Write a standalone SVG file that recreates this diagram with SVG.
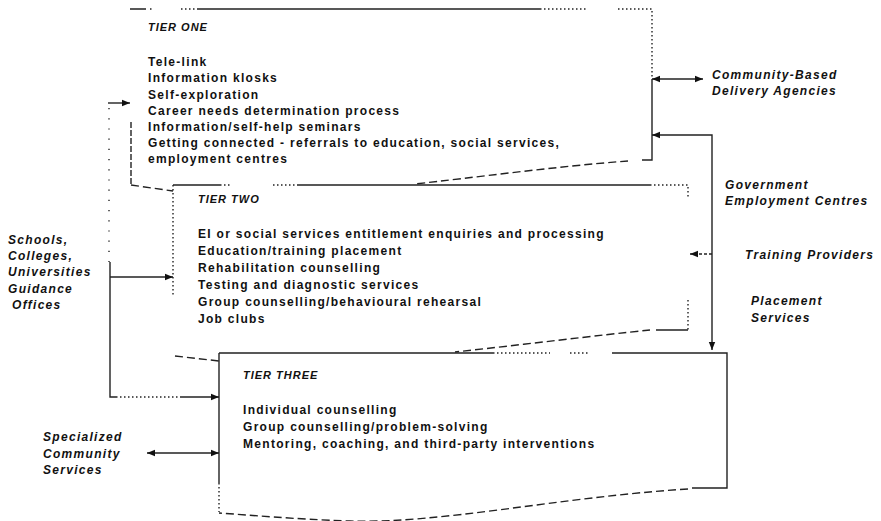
<svg xmlns="http://www.w3.org/2000/svg" width="881" height="521" viewBox="0 0 881 521">
<style>
.t{font-family:"Liberation Sans",Arial,Helvetica,sans-serif;font-weight:bold;font-size:12px;letter-spacing:1.3px;fill:#111}
.h{font-style:italic;font-size:11px;letter-spacing:1px}
.i{font-style:italic}
.s{fill:none;stroke:#222;stroke-width:1.4}
.d{stroke-dasharray:8 4}
.o{stroke-dasharray:1.5 2.5}
.f{stroke-dasharray:1.2 9}
</style>
<defs>
<marker id="ah" viewBox="0 0 10 10" refX="10" refY="5" markerWidth="8" markerHeight="8" markerUnits="userSpaceOnUse" orient="auto-start-reverse">
<path d="M0,1 L10,5 L0,9 z" fill="#111"/>
</marker>
</defs>
<rect width="881" height="521" fill="#fff"/>

<g id="tier-three">
<path class="s" d="M219,353 H493 M612,353 H727 V488 H692"/>
<path class="s o" d="M493,353 H550 M570,353 H590 M219,483 V512"/>
<path class="s" d="M219,353 V483"/>
<path class="s d" d="M688,489 C560,497 440,524 350,521 C290,519 250,515 219,513"/>
<text class="t h" x="243" y="379">TIER THREE</text>
<text class="t" x="243" y="414">Individual counselling</text>
<text class="t" x="243" y="431">Group counselling/problem-solving</text>
<text class="t" x="243" y="448">Mentoring, coaching, and third-party interventions</text>
</g>

<g id="tier-two">
<path class="s" d="M173,185 H220 M297,185 H650 M688,330 H656"/>
<path class="s o" d="M220,185 H230 M273,185 H297 M650,185 H688 V198 M688,300 V330 M173,185 V296"/>
<path class="s d" d="M650,330 C600,335 520,345 455,352"/>
<path class="s d" d="M175,356 L219,361"/>
<text class="t h" x="198" y="203">TIER TWO</text>
<text class="t" x="198" y="238">EI or social services entitlement enquiries and processing</text>
<text class="t" x="198" y="255">Education/training placement</text>
<text class="t" x="198" y="272">Rehabilitation counselling</text>
<text class="t" x="198" y="289">Testing and diagnostic services</text>
<text class="t" x="198" y="306">Group counselling/behavioural rehearsal</text>
<text class="t" x="198" y="323">Job clubs</text>
</g>

<g id="tier-one">
<path class="s" d="M130,9 H146 M197,9 H540 M652,80 V160 H642"/>
<path class="s o" d="M150,9 H152 M181,9 H195 M540,9 H587 M618,9 H652 V80"/>
<path class="s d" d="M628,161 C560,166 470,178 415,184"/>
<path class="s" d="M131,122 V185" stroke-dasharray="6 2"/>
<path class="s d" d="M131,185 L173,191"/>
<text class="t h" x="148" y="31">TIER ONE</text>
<text class="t" x="148" y="66">Tele-link</text>
<text class="t" x="148" y="82">Information klosks</text>
<text class="t" x="148" y="99">Self-exploration</text>
<text class="t" x="148" y="115">Career needs determination process</text>
<text class="t" x="148" y="131">Information/self-help seminars</text>
<text class="t" x="148" y="147">Getting connected - referrals to education, social services,</text>
<text class="t" x="148" y="163">employment centres</text>
</g>

<g id="community-based">
<text class="t i" x="712" y="79">Community-Based</text>
<text class="t i" x="712" y="95">Delivery Agencies</text>
</g>
<g id="government">
<text class="t i" x="725" y="189">Government</text>
<text class="t i" x="725" y="205">Employment Centres</text>
</g>
<g id="training">
<text class="t i" x="745" y="259">Training Providers</text>
</g>
<g id="placement">
<text class="t i" x="751" y="305">Placement</text>
<text class="t i" x="751" y="322">Services</text>
</g>
<g id="schools">
<text class="t i" x="8" y="244">Schools,</text>
<text class="t i" x="8" y="260">Colleges,</text>
<text class="t i" x="8" y="276">Universities</text>
<text class="t i" x="8" y="293">Guidance</text>
<text class="t i" x="12" y="309">Offices</text>
</g>
<g id="specialized">
<text class="t i" x="43" y="441">Specialized</text>
<text class="t i" x="43" y="458">Community</text>
<text class="t i" x="43" y="474">Services</text>
</g>

<g id="connectors">
<path class="s" d="M108,103 H130" marker-end="url(#ah)"/>
<path class="s f" d="M109,108 V262"/>
<path class="s" d="M110,262 V397 H116"/>
<path class="s" d="M110,277 H173" marker-end="url(#ah)"/>
<path class="s o" d="M116,397 H180"/>
<path class="s" d="M180,397 H219" marker-end="url(#ah)"/>
<path class="s" d="M147,453 H219" marker-start="url(#ah)" marker-end="url(#ah)"/>
<path class="s" d="M652,79 H703" marker-start="url(#ah)" marker-end="url(#ah)"/>
<path class="s" d="M712,350 V135 H652" marker-start="url(#ah)" marker-end="url(#ah)"/>
<path class="s" d="M712,254 H690" stroke-dasharray="3 2" marker-end="url(#ah)"/>
</g>
</svg>
